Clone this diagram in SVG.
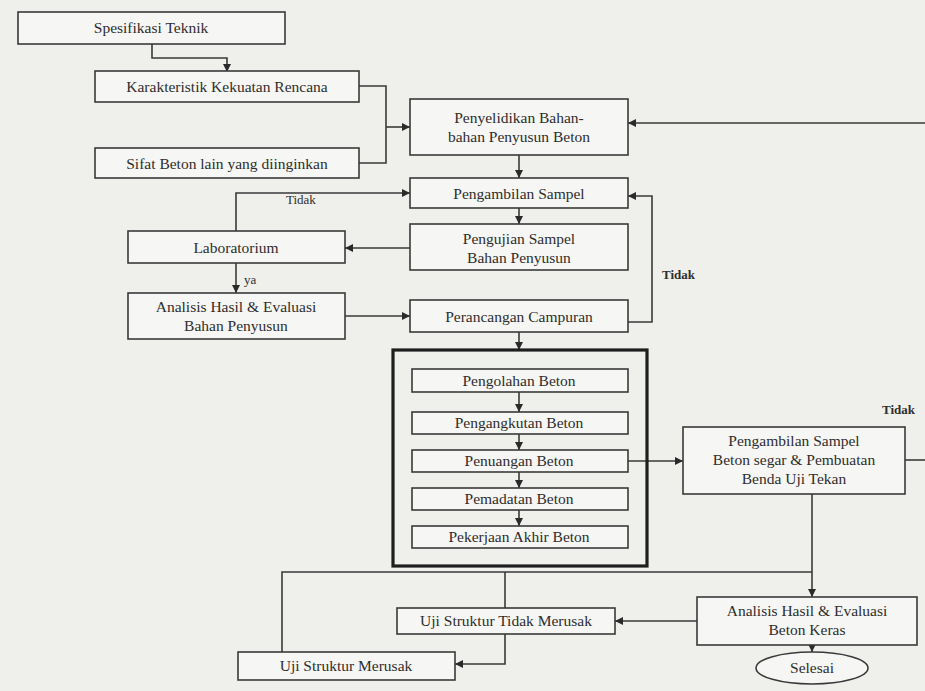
<svg xmlns="http://www.w3.org/2000/svg" width="925" height="691" viewBox="0 0 925 691">
  <style>
    .box { fill: #f6f6f4; stroke: #3a3a3a; stroke-width: 1.6; }
    .frame { fill: none; stroke: #1e1e1e; stroke-width: 3.2; }
    .lbl { font-family: "Liberation Serif", "Times New Roman", serif; font-size: 15.5px; fill: #2e2e2e; text-anchor: middle; }
    .note { font-family: "Liberation Serif", "Times New Roman", serif; font-size: 13px; fill: #2e2e2e; }
    .bold { font-weight: bold; }
    .wire { fill: none; stroke: #3a3a3a; stroke-width: 1.6; }
  </style>
  <defs>
    <marker id="arrow" viewBox="0 0 10 10" refX="10" refY="5" markerWidth="8" markerHeight="8" markerUnits="userSpaceOnUse" orient="auto">
      <path d="M0,0 L10,5 L0,10 z" fill="#2a2a2a"/>
    </marker>
  </defs>

  <!-- page -->
  <rect x="0" y="0" width="925" height="691" fill="#efefec"/>

  <!-- connectors -->
  <g id="connectors">
    <path class="wire" d="M152 44 V58 H227 V72" marker-end="url(#arrow)"/>
    <path class="wire" d="M359 86 H386 V163 H359"/>
    <path class="wire" d="M386 127 H410" marker-end="url(#arrow)"/>
    <path class="wire" d="M925 123 H628" marker-end="url(#arrow)"/>
    <path class="wire" d="M519 155 V178" marker-end="url(#arrow)"/>
    <path class="wire" d="M519 208 V224" marker-end="url(#arrow)"/>
    <path class="wire" d="M410 248 H345" marker-end="url(#arrow)"/>
    <path class="wire" d="M236 231 V193 H410" marker-end="url(#arrow)"/>
    <path class="wire" d="M236 263 V293" marker-end="url(#arrow)"/>
    <path class="wire" d="M345 316 H410" marker-end="url(#arrow)"/>
    <path class="wire" d="M628 322 H652 V196 H628" marker-end="url(#arrow)"/>
    <path class="wire" d="M519 332 V350" marker-end="url(#arrow)"/>
    <path class="wire" d="M519 392 V412" marker-end="url(#arrow)"/>
    <path class="wire" d="M519 434 V450" marker-end="url(#arrow)"/>
    <path class="wire" d="M519 472 V488" marker-end="url(#arrow)"/>
    <path class="wire" d="M519 510 V526" marker-end="url(#arrow)"/>
    <path class="wire" d="M628 461 H683" marker-end="url(#arrow)"/>
    <path class="wire" d="M905 460 H925"/>
    <path class="wire" d="M812 494 V597" marker-end="url(#arrow)"/>
    <path class="wire" d="M282 652 V572 H812"/>
    <path class="wire" d="M505 572 V608"/>
    <path class="wire" d="M697 621 H615" marker-end="url(#arrow)"/>
    <path class="wire" d="M505 634 V664 H455" marker-end="url(#arrow)"/>
    <path class="wire" d="M812 645 V652" marker-end="url(#arrow)"/>
    <text class="note" x="286" y="204">Tidak</text>
    <text class="note" x="244" y="284">ya</text>
    <text class="note bold" x="662" y="279">Tidak</text>
    <text class="note bold" x="882" y="414">Tidak</text>
  </g>

  <g id="spesifikasi">
    <rect class="box" x="18" y="12" width="267" height="32"/>
    <text class="lbl" x="151" y="33">Spesifikasi Teknik</text>
  </g>
  <g id="karakteristik">
    <rect class="box" x="95" y="71" width="264" height="31"/>
    <text class="lbl" x="227" y="92">Karakteristik Kekuatan Rencana</text>
  </g>
  <g id="sifat">
    <rect class="box" x="95" y="148" width="264" height="30"/>
    <text class="lbl" x="227" y="169">Sifat Beton lain yang diinginkan</text>
  </g>
  <g id="penyelidikan">
    <rect class="box" x="410" y="99" width="218" height="56"/>
    <text class="lbl" x="519" y="123">Penyelidikan Bahan-</text>
    <text class="lbl" x="519" y="142">bahan Penyusun Beton</text>
  </g>
  <g id="pengambilan-sampel">
    <rect class="box" x="410" y="178" width="218" height="30"/>
    <text class="lbl" x="519" y="199">Pengambilan Sampel</text>
  </g>
  <g id="pengujian-sampel">
    <rect class="box" x="410" y="224" width="218" height="46"/>
    <text class="lbl" x="519" y="244">Pengujian Sampel</text>
    <text class="lbl" x="519" y="263">Bahan Penyusun</text>
  </g>
  <g id="laboratorium">
    <rect class="box" x="128" y="231" width="217" height="32"/>
    <text class="lbl" x="236" y="253">Laboratorium</text>
  </g>
  <g id="analisis-bahan">
    <rect class="box" x="128" y="293" width="217" height="46"/>
    <text class="lbl" x="236" y="312">Analisis Hasil &amp; Evaluasi</text>
    <text class="lbl" x="236" y="331">Bahan Penyusun</text>
  </g>
  <g id="perancangan">
    <rect class="box" x="410" y="300" width="218" height="32"/>
    <text class="lbl" x="519" y="322">Perancangan Campuran</text>
  </g>

  <g id="pelaksanaan">
    <rect class="frame" x="393" y="350" width="254" height="216"/>
    <g id="pengolahan">
      <rect class="box" x="412" y="369" width="216" height="23"/>
      <text class="lbl" x="519" y="386">Pengolahan Beton</text>
    </g>
    <g id="pengangkutan">
      <rect class="box" x="412" y="412" width="216" height="22"/>
      <text class="lbl" x="519" y="428">Pengangkutan Beton</text>
    </g>
    <g id="penuangan">
      <rect class="box" x="412" y="450" width="216" height="22"/>
      <text class="lbl" x="519" y="466">Penuangan Beton</text>
    </g>
    <g id="pemadatan">
      <rect class="box" x="412" y="488" width="216" height="22"/>
      <text class="lbl" x="519" y="504">Pemadatan Beton</text>
    </g>
    <g id="pekerjaan-akhir">
      <rect class="box" x="412" y="526" width="216" height="22"/>
      <text class="lbl" x="519" y="542">Pekerjaan Akhir Beton</text>
    </g>
  </g>

  <g id="sampel-beton-segar">
    <rect class="box" x="683" y="427" width="222" height="67"/>
    <text class="lbl" x="794" y="446">Pengambilan Sampel</text>
    <text class="lbl" x="794" y="465">Beton segar &amp; Pembuatan</text>
    <text class="lbl" x="794" y="484">Benda Uji Tekan</text>
  </g>
  <g id="analisis-beton-keras">
    <rect class="box" x="697" y="597" width="220" height="48"/>
    <text class="lbl" x="807" y="616">Analisis Hasil &amp; Evaluasi</text>
    <text class="lbl" x="807" y="635">Beton Keras</text>
  </g>
  <g id="uji-tidak-merusak">
    <rect class="box" x="397" y="608" width="218" height="26"/>
    <text class="lbl" x="506" y="626">Uji Struktur Tidak Merusak</text>
  </g>
  <g id="uji-merusak">
    <rect class="box" x="238" y="652" width="217" height="28"/>
    <text class="lbl" x="346" y="671">Uji Struktur Merusak</text>
  </g>
  <g id="selesai">
    <ellipse class="box" cx="812" cy="668" rx="56" ry="16"/>
    <text class="lbl" x="812" y="673">Selesai</text>
  </g>
</svg>
